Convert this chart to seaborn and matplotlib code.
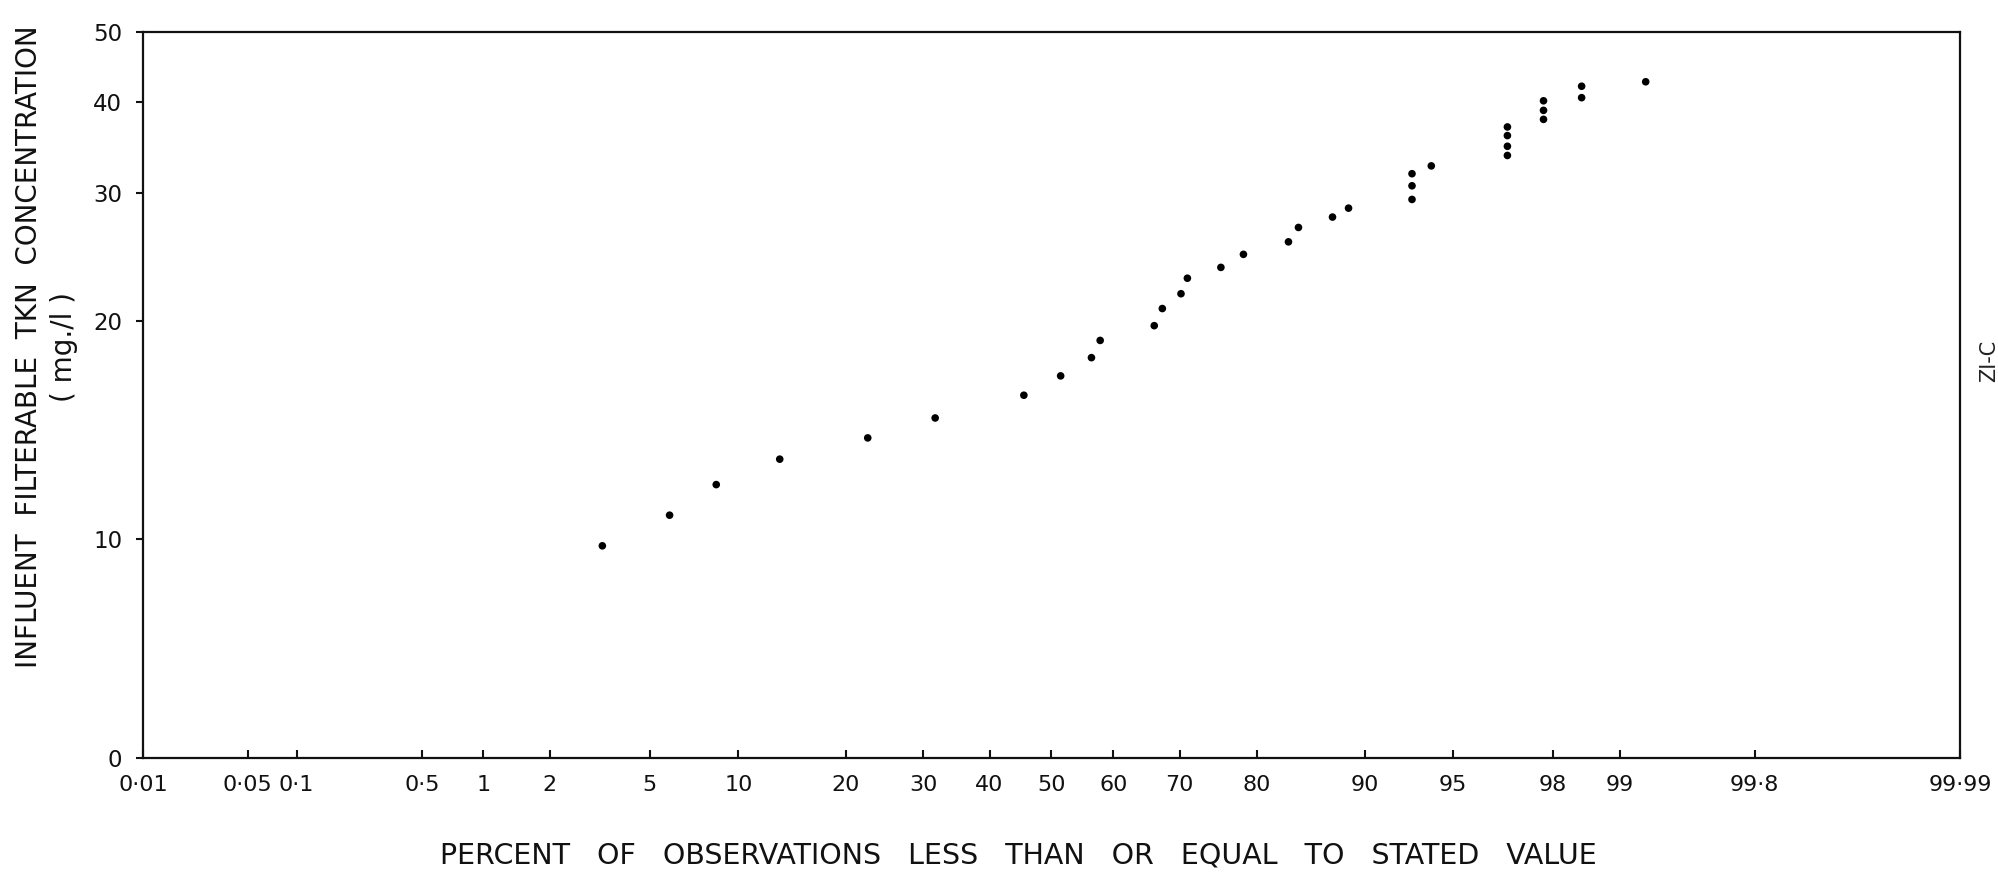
import numpy as np
import pandas as pd
import matplotlib
matplotlib.use("Agg")
import matplotlib.pyplot as plt
import seaborn as sns
from statistics import NormalDist

# Cumulative percent of observations (plotting position) and influent filterable TKN (mg/l)
percent = [3.3, 5.9, 8.5, 13.3, 22.6, 31.7, 45.5, 51.5, 56.5, 57.9,
           66.3, 67.5, 70.2, 71.1, 75.6, 78.4, 83.4, 84.4, 87.5, 88.8,
           93.0, 93.0, 93.0, 94.0, 96.9, 96.9, 96.9, 96.9, 97.8, 97.8,
           97.8, 98.5, 98.5, 99.25]
tkn = [9.8, 10.8, 11.9, 12.9, 13.8, 14.7, 15.8, 16.8, 17.8, 18.8,
       19.7, 20.8, 21.8, 22.9, 23.7, 24.7, 25.7, 26.9, 27.8, 28.6,
       29.4, 30.7, 31.9, 32.7, 33.8, 34.8, 36.0, 37.0, 37.9, 39.0,
       40.2, 40.6, 42.1, 42.7]

x_ticks = [0.01, 0.05, 0.1, 0.5, 1, 2, 5, 10, 20, 30, 40, 50, 60, 70, 80,
           90, 95, 98, 99, 99.8, 99.99]
x_tick_labels = ["0·01", "0·05", "0·1", "0·5", "1", "2", "5", "10", "20",
                 "30", "40", "50", "60", "70", "80", "90", "95", "98", "99",
                 "99·8", "99·99"]
y_ticks = [5, 10, 20, 30, 40, 50]
y_tick_labels = ["0", "10", "20", "30", "40", "50"]

df = pd.DataFrame({"percent": percent, "tkn": tkn})

sns.set_style("ticks")
plt.rcParams["font.family"] = ["DejaVu Sans"]

_nd = NormalDist()


def pct_to_z(p):
    p = np.clip(np.asarray(p, dtype=float), 1e-7, 100 - 1e-7)
    return np.vectorize(lambda v: _nd.inv_cdf(v / 100.0), otypes=[float])(p)


def z_to_pct(z):
    z = np.asarray(z, dtype=float)
    return np.vectorize(lambda v: 100.0 * _nd.cdf(v), otypes=[float])(z)


fig = plt.figure(figsize=(19.99, 8.77), dpi=100)
ax = fig.add_subplot(111)
fig.subplots_adjust(left=0.0715, right=0.9805, bottom=0.1357, top=0.9635)

sns.scatterplot(data=df, x="percent", y="tkn", color="black", s=30,
                edgecolor="none", ax=ax, legend=False)

# normal-probability x axis, logarithmic y axis
ax.set_xscale("function", functions=(pct_to_z, z_to_pct))
ax.set_yscale("log")
ax.set_xlim(0.01, 99.99)
ax.set_ylim(5, 50)

ax.set_xticks(x_ticks)
ax.set_xticklabels(x_tick_labels, fontsize=16, color="#111111")
ax.set_yticks(y_ticks)
ax.set_yticklabels(y_tick_labels, fontsize=16.5, color="#111111")
ax.xaxis.set_minor_locator(matplotlib.ticker.NullLocator())
ax.yaxis.set_minor_locator(matplotlib.ticker.NullLocator())

ax.tick_params(axis="x", direction="in", length=6, width=1.5, pad=12,
               color="#111111")
ax.tick_params(axis="y", direction="out", length=5, width=1.5, pad=10,
               color="#111111")

for side in ["left", "right", "top", "bottom"]:
    ax.spines[side].set_visible(True)
    ax.spines[side].set_linewidth(1.6)
    ax.spines[side].set_color("#111111")

ax.grid(False)

ax.set_xlabel("PERCENT   OF   OBSERVATIONS   LESS   THAN   OR   EQUAL   TO   STATED   VALUE",
              fontsize=20.5, color="#111111")
ax.xaxis.label.set_va("center")
ax.xaxis.set_label_coords(0.482, -0.135)

ax.set_ylabel("INFLUENT  FILTERABLE  TKN  CONCENTRATION\n( mg./l )",
              fontsize=20, color="#111111", multialignment="center",
              linespacing=1.3)
ax.yaxis.label.set_va("center")
ax.yaxis.set_label_coords(-0.0531, 0.566)

fig.text(0.9953, 0.589, "ZI-C", rotation=90, fontsize=15, ha="center",
         va="center", color="#222222")

fig.savefig("out.png", dpi=100, facecolor="white")
